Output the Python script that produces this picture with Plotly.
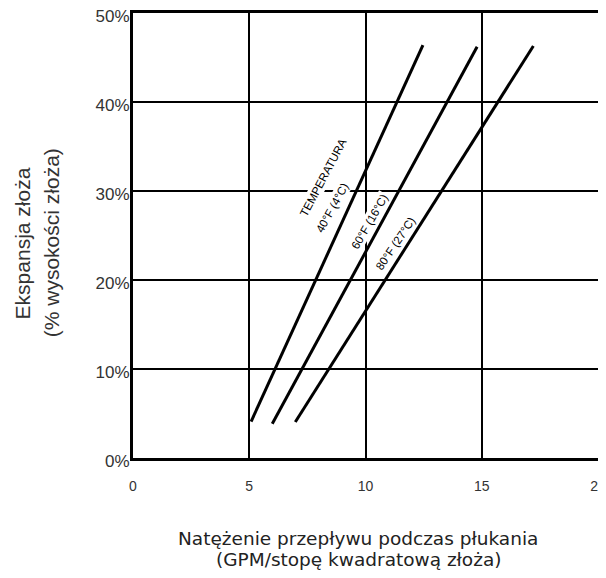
import plotly.graph_objects as go

# Data
flow_40F = [5.08, 12.47]
exp_40F = [4.1, 46.4]
flow_60F = [5.99, 14.80]
exp_60F = [3.85, 46.2]
flow_80F = [6.98, 17.22]
exp_80F = [4.04, 46.3]

x_ticks = [0, 5, 10, 15, 20]
y_ticks = [0, 10, 20, 30, 40, 50]
y_ticktext = ["0%", "10%", "20%", "30%", "40%", "50%"]

labels = ["TEMPERATURA", "40°F (4°C)", "60°F (16°C)", "80°F (27°C)"]
label_x = [8.16, 8.56, 10.16, 11.31]
label_y = [31.5, 28.1, 26.55, 24.13]
label_angle = [-62, -61, -60, -56]

x_title = ["Natężenie przepływu podczas płukania", "(GPM/stopę kwadratową złoża)"]
y_title = ["Ekspansja złoża", "(% wysokości złoża)"]

fig = go.Figure()
for xs, ys in [(flow_40F, exp_40F), (flow_60F, exp_60F), (flow_80F, exp_80F)]:
    fig.add_trace(go.Scatter(x=xs, y=ys, mode="lines",
                             line=dict(color="black", width=3),
                             showlegend=False, hoverinfo="skip"))

for t, x, y, a in zip(labels, label_x, label_y, label_angle):
    fig.add_annotation(x=x, y=y, xref="x", yref="y", text=t, showarrow=False,
                       textangle=a, bgcolor="white", borderpad=1,
                       font=dict(family="Liberation Sans, Arial", size=11.5, color="black"))

# axis titles (two lines each)
for t, yp in zip(x_title, [-0.182, -0.229]):
    fig.add_annotation(x=0.4845, y=yp, xref="paper", yref="paper", text=t,
                       showarrow=False, xanchor="center", yanchor="middle",
                       font=dict(family="DejaVu Sans", size=18.5, color="#222"))
for t, xp in zip(y_title, [-0.238, -0.176]):
    fig.add_annotation(x=xp, y=0.483, xref="paper", yref="paper", text=t,
                       showarrow=False, xanchor="center", yanchor="middle",
                       textangle=-90,
                       font=dict(family="Liberation Sans, Arial", size=21, color="#333"))

fig.update_xaxes(range=[0, 20], tickvals=x_ticks, showgrid=True, gridcolor="black",
                 gridwidth=2, zeroline=False, showline=True, linecolor="black",
                 linewidth=3, mirror=True, ticks="", ticklabelstandoff=13,
                 ticklabeloverflow="allow", automargin=False,
                 tickfont=dict(family="Liberation Sans, Arial", size=14, color="#333"))
fig.update_yaxes(range=[0, 50], tickvals=y_ticks, ticktext=y_ticktext, showgrid=True,
                 gridcolor="black", gridwidth=2, zeroline=False, showline=True,
                 linecolor="black", linewidth=3, mirror=True, ticks="",
                 ticklabelstandoff=-3, ticklabelshift=3, ticklabeloverflow="allow",
                 automargin=False,
                 tickfont=dict(family="Liberation Sans, Arial", size=17, color="#333"))

# page body adds an 8px margin, so the figure is sized to fit the 606x578 window
fig.update_layout(width=598, height=562, plot_bgcolor="white", paper_bgcolor="white",
                  margin=dict(l=125, r=8, t=5, b=112))

fig.write_html("out.html")
